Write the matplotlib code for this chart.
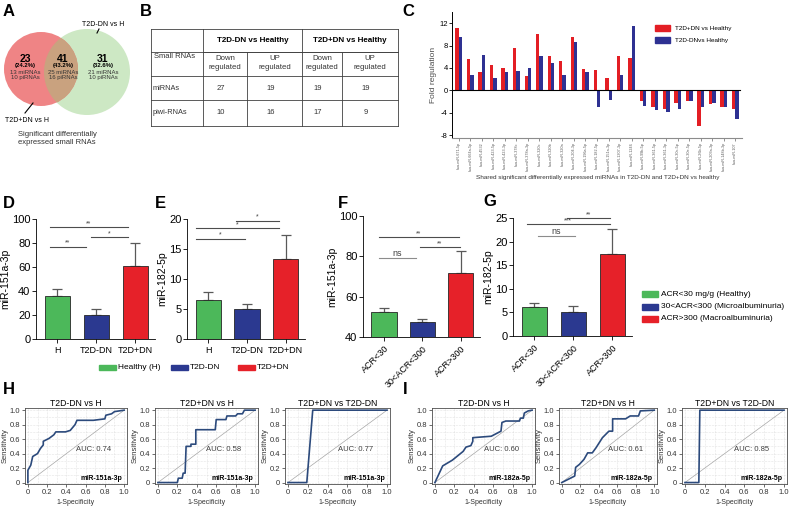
import numpy as np
import matplotlib
matplotlib.use("Agg")
import matplotlib.pyplot as plt
from matplotlib.patches import Circle, Rectangle

plt.rcParams['font.family'] = ['Liberation Sans', 'DejaVu Sans']
plt.rcParams['axes.unicode_minus'] = False

W, H = 800, 511

# ---- data ----
venn_counts = [23, 41, 31]
venn_pct = ["(24.2%)", "(43.2%)", "(32.6%)"]
venn_mirna = [13, 25, 21]
venn_pirna = [10, 16, 10]

table_rows = ["miRNAs", "piwi-RNAs"]
table_vals = [[27, 19, 19, 19], [10, 16, 17, 9]]

mirnas = ["hsa-miR-671-5p", "hsa-miR-664a-5p", "hsa-miR-4532", "hsa-miR-423-5p",
          "hsa-miR-423-3p", "hsa-miR-378c", "hsa-miR-378a-3p", "hsa-miR-320c",
          "hsa-miR-320b", "hsa-miR-320a", "hsa-miR-204-3p", "hsa-miR-196a-5p",
          "hsa-miR-182-5p", "hsa-miR-151a-3p", "hsa-miR-1307-3p", "hsa-miR-1246",
          "hsa-miR-99b-5p", "hsa-miR-361-5p", "hsa-miR-361-3p", "hsa-miR-30c-5p",
          "hsa-miR-30e-5p", "hsa-miR-26b-5p", "hsa-miR-203a-3p", "hsa-miR-148b-3p",
          "hsa-miR-107"]
fold_dn = [11.2, 5.6, 3.3, 4.5, 4.0, 7.5, 2.6, 10.1, 6.1, 5.3, 9.5, 3.8, 3.6,
           2.2, 6.1, 5.7, -1.9, -2.9, -3.4, -2.3, -1.9, -6.4, -2.4, -2.9, -3.3]
fold_nodn = [9.6, 2.8, 6.4, 2.2, 3.3, 3.5, 4.0, 6.2, 4.9, 2.8, 8.6, 3.2, -2.9,
             -1.8, 2.7, 11.5, -2.7, -3.5, -3.9, -3.4, -1.9, -2.9, -2.3, -3.0, -5.1]

groups = ["H", "T2D-DN", "T2D+DN"]
d_mean = [36, 20, 61]
d_err = [6, 5, 19]
e_mean = [6.5, 5.0, 13.4]
e_err = [1.4, 0.9, 4.0]
acr = ["ACR<30", "30<ACR<300", "ACR>300"]
f_mean = [52.5, 47.5, 71.5]
f_err = [2.0, 1.5, 11.0]
g_mean = [6.1, 5.1, 17.4]
g_err = [0.9, 1.2, 5.2]

d_sig = [(-0.2, 1.8, 93, "**"), (-0.2, 0.72, 77, "**"), (0.85, 1.82, 85, "*")]
e_sig = [(0.71, 1.82, 19.7, "*"), (-0.33, 1.82, 18.5, "*"), (-0.33, 0.96, 16.7, "*")]
f_sig = [(-0.13, 1.95, 89.5, "**"), (-0.13, 0.83, 79, "ns"), (0.94, 1.97, 84.5, "**")]
g_sig = [(0.83, 1.93, 25.0, "**"), (-0.2, 1.93, 23.7, "***"), (0.08, 1.05, 21.2, "ns")]

roc_h1 = ([0, 0, 0.03, 0.05, 0.1, 0.13, 0.16, 0.16, 0.22, 0.27, 0.29, 0.39, 0.44, 0.49, 0.51, 0.68, 0.8, 0.81, 0.87, 0.9, 1.0],
          [0, 0.17, 0.24, 0.36, 0.4, 0.47, 0.52, 0.57, 0.61, 0.66, 0.7, 0.7, 0.72, 0.8, 0.86, 0.86, 0.88, 0.93, 0.95, 0.98, 1.0])
roc_h2 = ([0, 0.2, 0.21, 0.25, 0.26, 0.28, 0.29, 0.34, 0.34, 0.39, 0.39, 0.59, 0.6, 0.7, 0.71, 0.8, 0.82, 0.87, 0.89, 1.0],
          [0, 0, 0.06, 0.06, 0.13, 0.13, 0.5, 0.5, 0.53, 0.53, 0.73, 0.73, 0.87, 0.87, 0.92, 0.92, 0.95, 0.95, 1.0, 1.0])
roc_h3 = ([0, 0.19, 0.25, 1.0], [0, 0, 1.0, 1.0])
roc_i1 = ([0, 0.08, 0.18, 0.29, 0.32, 0.37, 0.39, 0.39, 0.58, 0.68, 0.69, 0.73, 0.87, 0.88, 0.91, 0.92, 0.96, 1.0],
          [0, 0.23, 0.31, 0.43, 0.49, 0.51, 0.57, 0.62, 0.64, 0.71, 0.83, 0.85, 0.85, 0.89, 0.89, 0.96, 0.99, 1.0])
roc_i2 = ([0, 0.14, 0.15, 0.19, 0.24, 0.28, 0.33, 0.37, 0.44, 0.51, 0.55, 0.55, 0.69, 0.74, 0.83, 0.85, 1.0],
          [0, 0.09, 0.21, 0.25, 0.32, 0.41, 0.41, 0.48, 0.62, 0.71, 0.71, 0.88, 0.88, 0.92, 0.92, 0.99, 1.0])
roc_i3 = ([0, 0.14, 0.15, 1.0], [0, 0, 1.0, 1.0])
roc_titles = ["T2D-DN vs H", "T2D+DN vs H", "T2D+DN vs T2D-DN"]
auc_h = [0.74, 0.58, 0.77]
auc_i = [0.60, 0.61, 0.85]

GREEN, BLUE, RED = '#4cb85a', '#2b3990', '#e62129'


def box(x0, y0, x1, y1):
    return [x0 / W, 1 - y1 / H, (x1 - x0) / W, (y1 - y0) / H]


fig = plt.figure(figsize=(W / 100, H / 100), dpi=100)

# ---- panel C ----
axC = fig.add_axes(box(452, 12, 742, 138))
xc = np.arange(len(mirnas))
axC.bar(xc - 0.15, fold_dn, 0.3, color='#e31e24')
axC.bar(xc + 0.15, fold_nodn, 0.3, color='#2e3192')
axC.plot([-0.6, len(mirnas) - 0.55], [0, 0], color='black', lw=0.8)
axC.set_xlim(-0.6, len(mirnas) - 0.4)
axC.set_ylim(-8.5, 14)
axC.set_yticks([-8, -4, 0, 4, 8, 12])
axC.set_xticks(xc)
axC.set_xticklabels(mirnas, rotation=90, fontsize=2.7, color='0.35')
axC.tick_params(axis='y', labelsize=5.5, length=2, width=0.6, pad=1)
axC.tick_params(axis='x', length=2, width=0.5, pad=1, color='0.4')
for s in ['top', 'right']:
    axC.spines[s].set_visible(False)
axC.spines['bottom'].set_color('0.55')
axC.spines['left'].set_linewidth(0.7)
axC.set_ylabel("Fold regulation", fontsize=6, color='0.3', labelpad=2)
axC.legend(handles=[Rectangle((0, 0), 1, 1, color='#e31e24'), Rectangle((0, 0), 1, 1, color='#2e3192')],
           labels=["T2D+DN vs Healthy", "T2D-DNvs Healthy"], fontsize=4.6, frameon=False,
           loc='upper left', bbox_to_anchor=(0.68, 0.94), handlelength=2.4, handleheight=1.0,
           labelspacing=0.9)


# ---- bar panels D-G ----
def bar_panel(rect, means, errs, ylim, yticks, xlabels, ylabel, sigs, rot=False):
    ax = fig.add_axes(box(*rect))
    x = np.arange(3)
    ax.errorbar(x, means, yerr=[np.zeros(3), errs], fmt='none', ecolor='0.35',
                capsize=3.5, elinewidth=0.9, capthick=0.9)
    ax.bar(x, means, 0.66, color=[GREEN, BLUE, RED], edgecolor='0.15', linewidth=0.6, zorder=3)
    ax.set_xlim(-0.55, 2.5)
    ax.set_ylim(*ylim)
    ax.set_yticks(yticks)
    ax.set_xticks(x)
    if rot:
        ax.set_xticklabels(xlabels, rotation=45, ha='right', rotation_mode='anchor', fontsize=6.5)
    else:
        ax.set_xticklabels(xlabels, fontsize=6.5)
    ax.tick_params(axis='y', labelsize=8, length=3, width=0.6, pad=1)
    ax.tick_params(axis='x', length=3, width=0.6, pad=2)
    for s in ['top', 'right']:
        ax.spines[s].set_visible(False)
    for s in ['left', 'bottom']:
        ax.spines[s].set_linewidth(0.6)
    ax.set_ylabel(ylabel, fontsize=7.5, labelpad=1)
    for x1, x2, y, lab in sigs:
        c = '0.55' if lab == 'ns' else '0.3'
        ax.plot([x1, x2], [y, y], color=c, lw=0.8, clip_on=False)
        ax.text((x1 + x2) / 2, y, lab, ha='center', va='bottom',
                fontsize=6.5 if lab == 'ns' else 5, color='0.25')
    return ax


bar_panel((36, 219, 155, 339), d_mean, d_err, (0, 100), [0, 20, 40, 60, 80, 100], groups, "miR-151a-3p", d_sig)
bar_panel((187, 219, 305, 339), e_mean, e_err, (0, 20), [0, 5, 10, 15, 20], groups, "miR-182-5p", e_sig)
bar_panel((363, 216, 480, 337), f_mean, f_err, (40, 100), [40, 60, 80, 100], acr, "miR-151a-3p", f_sig, rot=True)
bar_panel((513, 218, 632, 336), g_mean, g_err, (0, 25), [0, 5, 10, 15, 20, 25], acr, "miR-182-5p", g_sig, rot=True)


# ---- ROC panels ----
def roc_panel(rect, curve, title, auc, mir):
    ax = fig.add_axes(box(*rect))
    ax.set_xlim(-0.03, 1.03)
    ax.set_ylim(-0.02, 1.03)
    ax.set_xticks(np.arange(0, 1.01, 0.1), minor=True)
    ax.set_yticks(np.arange(0, 1.01, 0.1), minor=True)
    ax.set_xticks([0, 0.2, 0.4, 0.6, 0.8, 1.0])
    ax.set_yticks([0, 0.2, 0.4, 0.6, 0.8, 1.0])
    ax.set_xticklabels(["0", "0.2", "0.4", "0.6", "0.8", "1.0"])
    ax.set_yticklabels(["0", "0.2", "0.4", "0.6", "0.8", "1.0"])
    ax.grid(True, which='both', color='0.8', lw=0.4, ls=':')
    ax.tick_params(which='minor', length=0)
    ax.tick_params(which='major', labelsize=5.5, length=2, width=0.5, pad=1.5, colors='0.2')
    for s in ax.spines.values():
        s.set_linewidth(0.6)
        s.set_color('0.3')
    ax.plot([0, 1], [0, 1], color='0.65', lw=0.5)
    ax.plot(curve[0], curve[1], color='#2c4a7c', lw=1.2)
    ax.set_title(title, fontsize=6.2, pad=1.5)
    ax.set_xlabel("1-Specificity", fontsize=5, labelpad=2, color='0.2')
    ax.set_ylabel("Sensitivity", fontsize=5.5, labelpad=0.5, color='0.2')
    ax.text(0.5, 0.45, f"AUC: {auc:.2f}", fontsize=5.5, va='center', color='0.25')
    ax.text(0.98, 0.05, mir, fontsize=5, fontweight='bold', ha='right', va='center')


for rect, cv, t, a in zip([(25, 408, 127, 484), (155, 408, 258, 484), (285, 408, 390, 484)],
                          [roc_h1, roc_h2, roc_h3], roc_titles, auc_h):
    roc_panel(rect, cv, t, a, "miR-151a-3p")
for rect, cv, t, a in zip([(432, 408, 535, 484), (559, 408, 657, 484), (682, 408, 787, 484)],
                          [roc_i1, roc_i2, roc_i3], roc_titles, auc_i):
    roc_panel(rect, cv, t, a, "miR-182a-5p")

# ---- overlay: letters, venn, table, legends ----
ov = fig.add_axes([0, 0, 1, 1], facecolor='none')
ov.set_xlim(0, W)
ov.set_ylim(H, 0)
ov.axis('off')

for lab, (lx, ly) in {"A": (3, 12), "B": (140, 12), "C": (402, 12), "D": (3, 203), "E": (155, 203),
                      "F": (338, 203), "G": (483, 202), "H": (3, 390), "I": (403, 390)}.items():
    ov.text(lx, ly, lab, fontsize=12, fontweight='bold', va='center')

# venn
red_c = Circle((41, 69), 37, color='#ef8485', lw=0)
green_c = Circle((87, 72), 43, color='#cde8c4', lw=0)
ov.add_patch(green_c)
ov.add_patch(red_c)
mid = Circle((87, 72), 43, color='#c9a27f', lw=0)
ov.add_patch(mid)
mid.set_clip_path(red_c)
for cx, n, p, m, pi in zip([25, 63, 103], venn_counts, venn_pct, venn_mirna, venn_pirna):
    ov.text(cx, 59, str(n), fontsize=7.5, fontweight='bold', ha='center', va='center')
    ov.text(cx, 66, p, fontsize=4.3, fontweight='bold', ha='center', va='center')
    ov.text(cx, 72, f"{m} miRNAs", fontsize=4.3, ha='center', va='center', color='0.2')
    ov.text(cx, 78, f"{pi} piRNAs", fontsize=4.3, ha='center', va='center', color='0.2')
ov.text(103, 24, "T2D-DN vs H", fontsize=5, ha='center', va='center')
ov.plot([99, 97], [29, 33], color='black', lw=0.8)
ov.text(27, 121, "T2D+DN vs H", fontsize=5, ha='center', va='center')
ov.plot([25, 33], [113, 103], color='black', lw=0.8)
ov.text(57, 135, "Significant differentially", fontsize=5.5, ha='center', va='center', color='0.2')
ov.text(57, 143, "expressed small RNAs", fontsize=5.5, ha='center', va='center', color='0.2')

# table
tx = [151, 203, 247, 302, 342, 398]
ty = [29, 52, 76, 100, 126]
lc = '0.25'
for y in ty:
    ov.plot([tx[0], tx[-1]], [y, y], color=lc, lw=0.6)
ov.plot([tx[1], tx[-1]], [ty[1], ty[1]], color=lc, lw=0.6)
for x in [tx[0], tx[1], tx[3], tx[5]]:
    ov.plot([x, x], [ty[0], ty[-1]], color=lc, lw=0.6)
for x in [tx[2], tx[4]]:
    ov.plot([x, x], [ty[1], ty[-1]], color=lc, lw=0.6)
ov.text((tx[1] + tx[3]) / 2, 41, "T2D-DN vs Healthy", fontsize=5.8, fontweight='bold', ha='center', va='center')
ov.text((tx[3] + tx[5]) / 2, 41, "T2D+DN vs Healthy", fontsize=5.8, fontweight='bold', ha='center', va='center')
ov.text(154, 57, "Small RNAs", fontsize=5.5, va='center', color='0.2')
for i, h in enumerate(["Down\nregulated", "UP\nregulated", "Down\nregulated", "UP\nregulated"]):
    ov.text((tx[i + 1] + tx[i + 2]) / 2, 63, h, fontsize=5.6, ha='center', va='center',
            color='0.2', linespacing=1.25)
for r, (name, vals) in enumerate(zip(table_rows, table_vals)):
    yc = (ty[r + 2] + ty[r + 3]) / 2
    ov.text(153, yc, name, fontsize=5.3, va='center', color='0.2')
    for i, v in enumerate(vals):
        ov.text((tx[i + 1] + tx[i + 2]) / 2 - 4, yc, str(v), fontsize=5.5, ha='center', va='center', color='0.2')

ov.text(598, 178, "Shared significant differentially expressed miRNAs in T2D-DN and T2D+DN vs healthy",
        fontsize=4.6, ha='center', va='center', color='0.2')

# D/E legend
for x0, c, lab in zip([99, 171, 238], [GREEN, BLUE, RED], ["Healthy (H)", "T2D-DN", "T2D+DN"]):
    ov.add_patch(Rectangle((x0, 365), 17, 5.5, color=c))
    ov.text(x0 + 19, 367.5, lab, fontsize=6, va='center')
# G legend
for y0, c, lab in zip([294, 307, 319], [GREEN, BLUE, RED],
                      ["ACR<30 mg/g (Healthy)", "30<ACR<300 (Microalbuminuria)", "ACR>300 (Macroalbuminuria)"]):
    ov.add_patch(Rectangle((642, y0 - 2.8), 16, 5.5, color=c))
    ov.text(661, y0, lab, fontsize=6, va='center')

fig.savefig("out.png", dpi=100)
